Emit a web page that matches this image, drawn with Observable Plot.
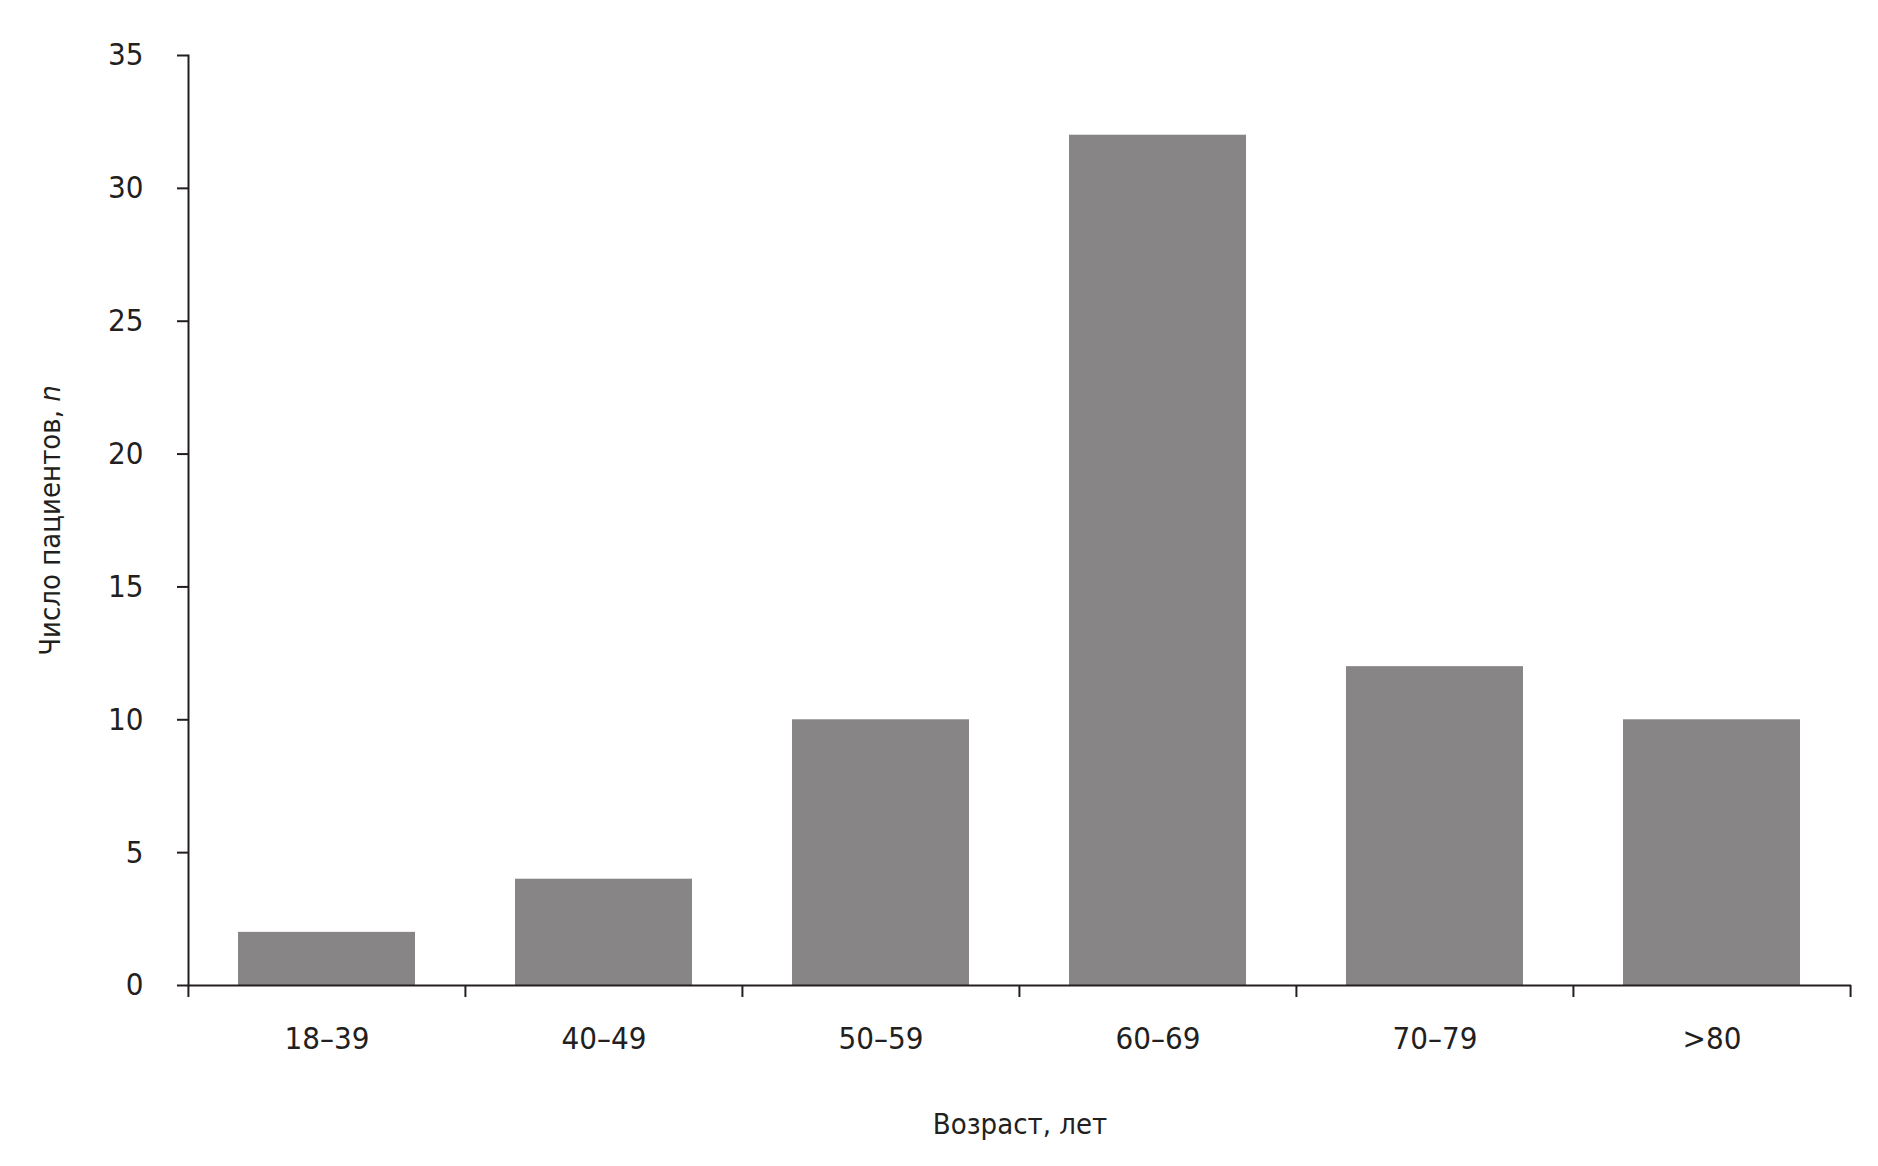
<!DOCTYPE html>
<html>
<head>
<meta charset="utf-8">
<script src="https://cdn.jsdelivr.net/npm/d3@7"></script>
<script src="https://cdn.jsdelivr.net/npm/@observablehq/plot@0.6"></script>
<style>
  html, body { margin: 0; padding: 0; background: #fff; }
  #chart svg { display: block; }
</style>
</head>
<body>
<div id="chart"></div>
<script>
const categories = ["18–39", "40–49", "50–59", "60–69", "70–79", ">80"];
const counts = [2, 4, 10, 32, 12, 10];
const yTicks = [0, 5, 10, 15, 20, 25, 30, 35];
const xTitle = "Возраст, лет";
const yTitleMain = "Число пациентов, ";
const yTitleItalic = "n";

const data = categories.map((c, i) => ({age: c, n: counts[i]}));

const W = 1878, H = 1166;
const mL = 188, mR = 27, mT = 55, mB = 181;
const step = (W - mL - mR) / categories.length;
const font = "'Liberation Sans Narrow', 'DejaVu Sans Condensed', 'Roboto', sans-serif";
const ink = "#231f20";

const chart = Plot.plot({
  width: W,
  height: H,
  marginLeft: mL,
  marginRight: mR,
  marginTop: mT,
  marginBottom: mB,
  style: {fontFamily: font, background: "#fff", color: ink},
  x: {type: "band", domain: categories, paddingInner: 0.36, paddingOuter: 0.18},
  y: {domain: [0, 35]},
  marks: [
    Plot.barY(data, {x: "age", y: "n", fill: "#878586"}),
    Plot.ruleY([0], {stroke: ink, strokeWidth: 2}),
    Plot.frame({anchor: "left", stroke: ink, strokeWidth: 2}),
    Plot.axisY({ticks: yTicks, tickSize: 11, tickPadding: 34, fontSize: 31, label: null, stroke: ink, strokeWidth: 2, fill: ink}),
    Plot.axisX({tickSize: 0, tickPadding: 41, fontSize: 31, label: null, fill: ink}),
    Plot.axisX({ticks: categories, tickSize: 12, tickFormat: () => "", label: null, dx: -step / 2, stroke: ink, strokeWidth: 2}),
    Plot.axisX({ticks: categories.slice(-1), tickSize: 12, tickFormat: () => "", label: null, dx: step / 2, stroke: ink, strokeWidth: 2}),
    Plot.text([xTitle], {frameAnchor: "bottom", dy: 139, lineAnchor: "middle", textAnchor: "middle", fontSize: 29, fill: ink}),
    Plot.text([yTitleMain], {frameAnchor: "left", dx: -138, rotate: -90, lineAnchor: "middle", textAnchor: "middle", fontSize: 29, fill: ink, className: "ytitle"})
  ]
});

d3.select(chart).select(".ytitle text").each(function () {
  const t = d3.select(this);
  t.text(yTitleMain);
  t.append("tspan").attr("font-style", "italic").text(yTitleItalic);
});

document.getElementById("chart").appendChild(chart);
</script>
</body>
</html>
